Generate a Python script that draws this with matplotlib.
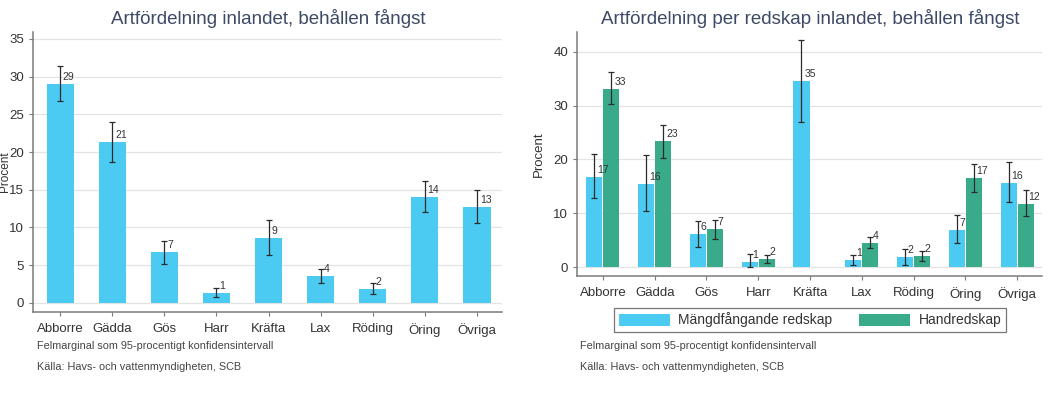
import numpy as np
import matplotlib
matplotlib.use("Agg")
import matplotlib.pyplot as plt
from matplotlib.patches import Patch

plt.rcParams['font.family'] = ['Liberation Sans', 'DejaVu Sans']

categories = ["Abborre", "Gädda", "Gös", "Harr", "Kräfta", "Lax", "Röding", "Öring", "Övriga"]

# Left chart: total
tot_val = [29.0, 21.3, 6.8, 1.3, 8.6, 3.6, 1.9, 14.1, 12.7]
tot_lo = [26.7, 18.7, 5.2, 0.8, 6.4, 2.7, 1.2, 12.0, 10.6]
tot_hi = [31.4, 24.0, 8.2, 2.0, 11.0, 4.5, 2.7, 16.2, 14.9]
tot_lab = ["29", "21", "7", "1", "9", "4", "2", "14", "13"]

# Right chart: per gear type
mg_val = [16.8, 15.5, 6.2, 1.0, 34.6, 1.3, 1.8, 6.9, 15.7]
mg_lo = [12.8, 10.4, 3.8, 0.0, 27.0, 0.4, 0.3, 4.4, 12.0]
mg_hi = [21.0, 20.8, 8.6, 2.5, 42.2, 2.2, 3.4, 9.6, 19.6]
mg_lab = ["17", "16", "6", "1", "35", "1", "2", "7", "16"]

hr_val = [33.1, 23.4, 7.0, 1.5, np.nan, 4.5, 2.0, 16.6, 11.8]
hr_lo = [30.3, 20.3, 5.2, 0.8, np.nan, 3.5, 1.2, 14.0, 9.4]
hr_hi = [36.2, 26.5, 8.7, 2.3, np.nan, 5.6, 2.9, 19.1, 14.3]
hr_lab = ["33", "23", "7", "2", "", "4", "2", "17", "12"]

series_names = ["Mängdfångande redskap", "Handredskap"]

BLUE = "#4ccbf2"
GREEN = "#3aab8a"
ERR = "#2b2b2b"
TXT = "#333333"
TITLE = "#3d4a66"
GRID = "#e3e3e3"
SPINE = "#7a7a7a"
FOOT = 7.8

W, H = 1057, 405
fig = plt.figure(figsize=(W / 100, H / 100), dpi=100)


def style_axes(ax):
    for s in ["top", "right"]:
        ax.spines[s].set_visible(False)
    for s in ["left", "bottom"]:
        ax.spines[s].set_color(SPINE)
        ax.spines[s].set_linewidth(1.1)
    ax.yaxis.grid(True, color=GRID, linewidth=0.9)
    ax.set_axisbelow(True)
    ax.tick_params(axis='both', colors=SPINE, labelcolor=TXT, length=3, width=0.8)
    ax.tick_params(axis='x', labelsize=9.5, pad=5)
    ax.tick_params(axis='y', labelsize=9.5)


def draw(ax, x, vals, lo, hi, labs, color, width):
    v = np.array(vals, dtype=float)
    ok = ~np.isnan(v)
    xs = np.array(x)[ok]
    ax.bar(xs, v[ok], width=width, color=color, zorder=2)
    yerr = np.array([v[ok] - np.array(lo)[ok], np.array(hi)[ok] - v[ok]])
    ax.errorbar(xs, v[ok], yerr=yerr, fmt='none', ecolor=ERR, elinewidth=0.9,
                capsize=2.5, capthick=0.9, zorder=3)
    for xi, vi, li in zip(xs, v[ok], np.array(labs)[ok]):
        ax.annotate(li, (xi, vi), xytext=(2, 5), textcoords='offset points',
                    ha='left', va='center', fontsize=7.5, color=TXT, zorder=4)


x = np.arange(len(categories))

# ---- Left chart
ax1 = fig.add_axes([33 / W, 1 - 312 / H, 469 / W, 280 / H])
style_axes(ax1)
draw(ax1, x, tot_val, tot_lo, tot_hi, tot_lab, BLUE, 0.52)
ax1.set_xlim(-0.52, 8.48)
ax1.set_ylim(-1.2, 35.9)
ax1.set_yticks([0, 5, 10, 15, 20, 25, 30, 35])
ax1.set_xticks(x)
ax1.set_xticklabels(categories)
fig.text(268 / W, 1 - 18 / H, "Artfördelning inlandet, behållen fångst", ha='center', va='center',
         fontsize=13.5, color=TITLE)
fig.text(5 / W, 1 - 172 / H, "Procent", rotation=90, ha='center', va='center', fontsize=8.5, color=TXT)
fig.text(37 / W, 1 - 346 / H, "Felmarginal som 95-procentigt konfidensintervall", ha='left', va='center',
         fontsize=FOOT, color="#444444")
fig.text(37 / W, 1 - 367 / H, "Källa: Havs- och vattenmyndigheten, SCB", ha='left', va='center',
         fontsize=FOOT, color="#444444")

# ---- Right chart
ax2 = fig.add_axes([577 / W, 1 - 276 / H, 465 / W, 244 / H])
style_axes(ax2)
bw = 0.31
draw(ax2, x - 0.165, mg_val, mg_lo, mg_hi, mg_lab, BLUE, bw)
draw(ax2, x + 0.165, hr_val, hr_lo, hr_hi, hr_lab, GREEN, bw)
ax2.set_xlim(-0.50, 8.48)
ax2.set_ylim(-1.67, 43.7)
ax2.set_yticks([0, 10, 20, 30, 40])
ax2.set_xticks(x)
ax2.set_xticklabels(categories)
ax2.set_ylabel("Procent", fontsize=9.5, color=TXT, labelpad=6)
fig.text(810 / W, 1 - 18 / H, "Artfördelning per redskap inlandet, behållen fångst", ha='center', va='center',
         fontsize=13.5, color=TITLE)
handles = [Patch(facecolor=BLUE, edgecolor='none'), Patch(facecolor=GREEN, edgecolor='none')]
leg = fig.legend(handles, series_names, loc='center', bbox_to_anchor=(810 / W, 1 - 320 / H),
                 ncol=2, fontsize=10, frameon=True, fancybox=False, handlelength=3.7,
                 handleheight=1.0, columnspacing=1.9, borderpad=0.3, handletextpad=0.6)
leg.get_frame().set_edgecolor("#555555")
leg.get_frame().set_linewidth(0.9)
for t in leg.get_texts():
    t.set_color(TXT)
fig.text(580 / W, 1 - 346 / H, "Felmarginal som 95-procentigt konfidensintervall", ha='left', va='center',
         fontsize=FOOT, color="#444444")
fig.text(580 / W, 1 - 367 / H, "Källa: Havs- och vattenmyndigheten, SCB", ha='left', va='center',
         fontsize=FOOT, color="#444444")

fig.savefig("out.png", dpi=100, facecolor='white')
